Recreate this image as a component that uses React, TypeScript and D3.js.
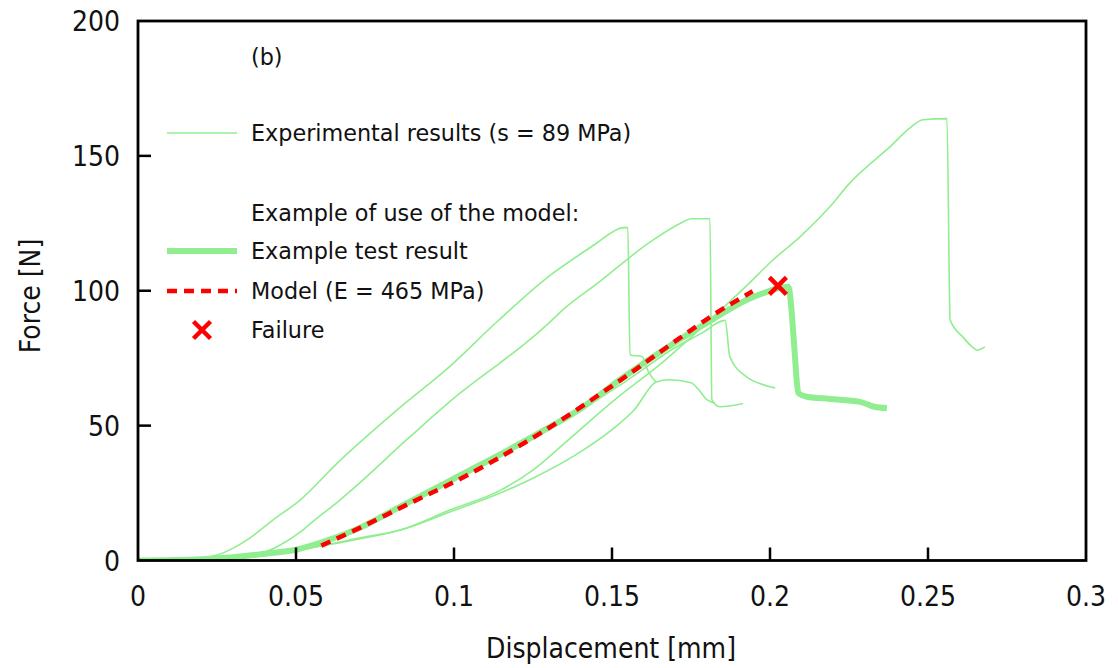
import React from "react";
import * as d3 from "d3";

type P = [number, number];

const xTicks = [0, 0.05, 0.1, 0.15, 0.2, 0.25, 0.3];
const xTickLabels = ["0", "0.05", "0.1", "0.15", "0.2", "0.25", "0.3"];
const yTicks = [0, 50, 100, 150, 200];
const yTickLabels = ["0", "50", "100", "150", "200"];

const expA: P[] = [
  [0, 0], [0.01, 0.2], [0.02, 0.8], [0.025, 2], [0.03, 4.5], [0.035, 8], [0.0427, 15], [0.0513, 22.4],
  [0.063, 36], [0.082, 55.8], [0.0987, 72], [0.1136, 88.5], [0.1294, 104.8], [0.1453, 117.8],
  [0.1503, 121.9], [0.1535, 123.4], [0.155, 123.4], [0.1557, 76.2], [0.1595, 75.6],
  [0.1615, 70], [0.164, 66],
];
const expB: P[] = [
  [0, 0], [0.02, 0.4], [0.035, 1.5], [0.04, 3], [0.0454, 6], [0.0513, 10.5], [0.0554, 14.5], [0.0639, 22.4],
  [0.067, 25.5], [0.086, 45.8], [0.102, 62.1], [0.1146, 73.3], [0.121, 79], [0.13, 88],
  [0.1345, 93], [0.146, 103.3], [0.162, 118], [0.172, 125.2], [0.175, 126.7], [0.181, 126.7],
  [0.1816, 59.6], [0.184, 57], [0.1915, 58.2],
];
const expC: P[] = [
  [0, 0], [0.02, 0.5], [0.04, 1.8], [0.0513, 4], [0.07, 8], [0.083, 11.3], [0.0987, 18.7], [0.1146, 26],
  [0.125, 33.5], [0.135, 43.5], [0.1516, 60.3], [0.165, 72.5], [0.178, 86], [0.1927, 102],
  [0.201, 111.5], [0.2095, 120], [0.219, 131.2], [0.2253, 140], [0.2307, 146], [0.238, 153.4],
  [0.2443, 160.4], [0.2484, 163.4], [0.256, 163.8], [0.257, 89.2], [0.261, 82.9], [0.264, 79.2],
  [0.2655, 78], [0.268, 79.2],
];
const expD: P[] = [
  [0, 0], [0.02, 0.5], [0.04, 1.8], [0.0513, 4], [0.07, 8.3], [0.083, 11.3], [0.0987, 18], [0.1146, 25],
  [0.125, 30.5], [0.141, 41], [0.1516, 50], [0.157, 55.8], [0.164, 66.2], [0.168, 67],
  [0.175, 65.9], [0.178, 62.5], [0.18, 59.6], [0.1826, 58.4],
];
const expE: P[] = [
  [0, 0], [0.02, 0.5], [0.04, 2.3], [0.05, 3.8], [0.06, 7], [0.083, 19.5], [0.104, 32],
  [0.125, 45], [0.1525, 65], [0.1715, 80], [0.178, 84], [0.1858, 89], [0.1873, 75.5],
  [0.1927, 68], [0.197, 65.5], [0.2016, 64],
];
const experimental: P[][] = [expA, expB, expC, expD, expE];

const exampleTest: P[] = [
  [0, 0], [0.02, 0.5], [0.03, 1.2], [0.04, 2.5], [0.05, 4], [0.06, 7.5], [0.07, 12], [0.083, 20],
  [0.104, 32.8], [0.125, 46], [0.141, 57], [0.1525, 67], [0.1715, 82], [0.182, 89.5],
  [0.1927, 96.7], [0.199, 99.6], [0.203, 101], [0.2057, 101.5], [0.2063, 99], [0.207, 90],
  [0.208, 74], [0.2085, 66], [0.209, 62], [0.2117, 60.7], [0.219, 59.9], [0.2285, 58.8],
  [0.233, 57], [0.237, 56.5],
];
const model: P[] = [
  [0.058, 5.5], [0.07, 12], [0.083, 19.5], [0.104, 31.5], [0.125, 45.5], [0.1516, 66],
  [0.1715, 82.5], [0.182, 91], [0.1945, 99.8],
];
const failure: P = [0.2025, 101.8];

const legendLabels = [
  "Experimental results (s = 89 MPa)",
  "Example of use of the model:",
  "Example test result",
  "Model (E = 465 MPa)",
  "Failure",
];

const W = 1118;
const H = 668;
const L = 138, R = 1086, T = 21, B = 560.5;
const GREEN = "#90EE90";
const RED = "#FF0000";
const TEXT = "#111";
const FONT = "'DejaVu Sans', Verdana, sans-serif";
const TICKFONT = "'DejaVu Sans Condensed', 'DejaVu Sans', sans-serif";

export default function App() {
  const x = d3.scaleLinear().domain([0, 0.3]).range([L, R]);
  const y = d3.scaleLinear().domain([0, 200]).range([B, T]);
  const line = d3.line<P>().x((d) => x(d[0])).y((d) => y(d[1])).curve(d3.curveMonotoneX);

  const cross = (cx: number, cy: number, s: number) =>
    `M${cx - s},${cy - s}L${cx + s},${cy + s}M${cx - s},${cy + s}L${cx + s},${cy - s}`;

  const legX1 = 167, legX2 = 237, legText = 251;
  const rows = [133, 213, 251, 291, 330];

  return (
    <svg width={W} height={H} style={{ position: "absolute", left: 0, top: 0, background: "#fff" }}>
      <defs>
        <clipPath id="plot">
          <rect x={L} y={T} width={R - L} height={B - T} />
        </clipPath>
      </defs>
      <rect x={0} y={0} width={W} height={H} fill="#fff" />
      <g clipPath="url(#plot)">
        {experimental.map((s, i) => (
          <path key={i} d={line(s) || ""} fill="none" stroke={GREEN} strokeWidth={1.6} strokeLinejoin="round" />
        ))}
        <path d={line(exampleTest) || ""} fill="none" stroke={GREEN} strokeWidth={6} strokeLinejoin="round" />
        <path d={line(model) || ""} fill="none" stroke={RED} strokeWidth={4.5} strokeDasharray="10,7" />
        <path d={cross(x(failure[0]), y(failure[1]), 8.5)} stroke={RED} strokeWidth={4.5} fill="none" />
      </g>

      {xTicks.slice(1, -1).map((t) => (
        <line key={t} x1={x(t)} x2={x(t)} y1={B} y2={B - 13} stroke="#000" strokeWidth={2.5} />
      ))}
      {yTicks.slice(1, -1).map((t) => (
        <line key={t} x1={L} x2={L + 13} y1={y(t)} y2={y(t)} stroke="#000" strokeWidth={2.5} />
      ))}
      <rect x={L} y={T} width={R - L} height={B - T} fill="none" stroke="#000" strokeWidth={2.8} />

      {xTicks.map((t, i) => (
        <text key={t} x={x(t)} y={606} textAnchor="middle" fontFamily={TICKFONT} fontSize={28} fill={TEXT}>
          {xTickLabels[i]}
        </text>
      ))}
      {yTicks.map((t, i) => (
        <text key={t} x={120} y={y(t) + 10} textAnchor="end" fontFamily={TICKFONT} fontSize={28} fill={TEXT}>
          {yTickLabels[i]}
        </text>
      ))}

      <text x={611} y={658} textAnchor="middle" fontFamily={TICKFONT} fontSize={28} fill={TEXT}>
        Displacement [mm]
      </text>
      <text transform={`translate(40,${296}) rotate(-90)`} textAnchor="middle" fontFamily={TICKFONT} fontSize={28} fill={TEXT}>
        Force [N]
      </text>

      <text x={251} y={65} fontFamily={FONT} fontSize={22.3} fill={TEXT}>(b)</text>

      <line x1={legX1} x2={legX2} y1={rows[0]} y2={rows[0]} stroke={GREEN} strokeWidth={1.6} />
      <line x1={legX1} x2={legX2} y1={rows[2]} y2={rows[2]} stroke={GREEN} strokeWidth={6} />
      <line x1={legX1} x2={legX2} y1={rows[3]} y2={rows[3]} stroke={RED} strokeWidth={4.5} strokeDasharray="10,7" />
      <path d={cross(202, rows[4], 8.5)} stroke={RED} strokeWidth={4.5} fill="none" />
      {legendLabels.map((lab, i) => (
        <text key={i} x={legText} y={rows[i] + 8} fontFamily={FONT} fontSize={22.3} fill={TEXT}>
          {lab}
        </text>
      ))}
    </svg>
  );
}
